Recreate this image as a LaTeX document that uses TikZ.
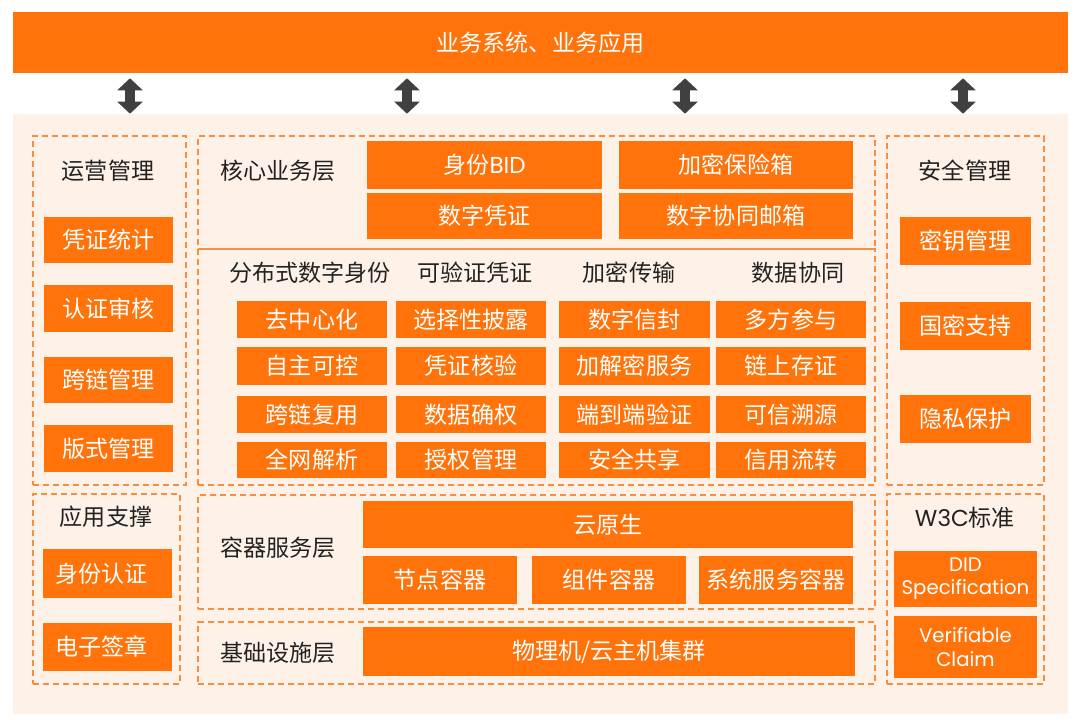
\documentclass[tikz,border=0pt]{standalone}
\usepackage{fontspec}
\setmainfont{Noto Sans CJK SC}
\newfontfamily\latfont{Poppins}
\usetikzlibrary{arrows.meta, positioning, fit}
\definecolor{brandorange}{RGB}{255,115,10}
\definecolor{dashorange}{RGB}{249,140,62}
\definecolor{panelbg}{RGB}{254,242,232}
\definecolor{titlegray}{RGB}{34,34,34}
\definecolor{arrowgray}{RGB}{64,64,64}
\newcommand{\boxfont}{\fontsize{16.4}{19}\selectfont}
\newcommand{\smallfont}{\fontsize{14}{16.5}\selectfont\latfont}
\tikzset{
    obox/.style={fill=brandorange, inner sep=0pt},
    btxt/.style={text=white, font=\boxfont, inner sep=0pt, align=center},
    dbox/.style={draw=dashorange, line width=0.04cm, dash pattern=on 0.15cm off 0.1cm, inner sep=0pt},
    ttl/.style={text=titlegray, font=\boxfont, inner sep=0pt},
    updown/.style={{Triangle[length=0.3cm,width=0.62cm]}-{Triangle[length=0.3cm,width=0.62cm]}, line width=0.27cm, arrowgray}
}

\begin{document}
\begin{tikzpicture}[x=0.025cm, y=-0.025cm]
        \useasboundingbox (0,0) rectangle (1080,720);
        % top bar and panel
        \node [obox, fit={(13,12) (1068,73)}, label={[btxt]center:业务系统、业务应用}] (biz) {};
        \node [fill=panelbg, inner sep=0pt, fit={(13,114) (1068,714)}] (bg) {};

        \foreach \i/\x in {1/130, 2/407, 3/685, 4/963} {
            \coordinate (p\i) at (\x,0);
            \draw [updown] ([yshift=-0.125cm]biz.south -| p\i) -- (bg.north -| p\i);
        }

        % left column
        \node [dbox, fit={(33,136) (186,485)}] (ops) {};
        \node [ttl] (opsttl) at (108,171) {运营管理};
        \node [obox, fit={(44,217) (173,263)}, label={[btxt]center:凭证统计}] (pztj) {};
        \node [obox, fit={(44,285) (173,332)}, label={[btxt]center:认证审核}] (rzsh) {};
        \node [obox, fit={(44,357) (173,403)}, label={[btxt]center:跨链管理}] (klgl) {};
        \node [obox, fit={(44,425) (173,472)}, label={[btxt]center:版式管理}] (bsgl) {};

        \node [dbox, fit={(33,494) (180,684)}] (app) {};
        \node [ttl] (appttl) at (106,517) {应用支撑};
        \node [obox, fit={(43,549) (172,598)}, label={[btxt, xshift=-0.15cm]center:身份认证}] (sfrz) {};
        \node [obox, fit={(43,623) (172,671)}, label={[btxt, xshift=-0.15cm]center:电子签章}] (dzqz) {};

        % core business layer
        \node [dbox, fit={(198,136) (875,249)}] (core) {};
        \node [ttl] (corettl) at (278,171) {核心业务层};
        \node [obox, fit={(367,141) (602,189)}, label={[btxt]center:身份{\latfont BID}}] (bid) {};
        \node [obox, fit={(367,193) (602,239)}, label={[btxt]center:数字凭证}] (szpz) {};
        \node [obox, fit={(619,141) (853,189)}, label={[btxt]center:加密保险箱}] (bxx) {};
        \node [obox, fit={(619,193) (853,239)}, label={[btxt]center:数字协同邮箱}] (yx) {};

        % distributed identity grid
        \node [dbox, fit={(198,249) (875,485)}] (dist) {};
        \node [ttl] (h1) at (310,273) {分布式数字身份};
        \node [ttl] (h2) at (475,273) {可验证凭证};
        \node [ttl] (h3) at (629,273) {加密传输};
        \node [ttl] (h4) at (798,273) {数据协同};
        \foreach \c/\xa/\xb/\ta/\tb/\tc/\td in {
            1/237/387/去中心化/自主可控/跨链复用/全网解析,
            2/396/546/选择性披露/凭证核验/数据确权/授权管理,
            3/559/710/数字信封/加解密服务/端到端验证/安全共享,
            4/716/866/多方参与/链上存证/可信溯源/信用流转} {
            \node [obox, fit={(\xa,301) (\xb,338)}, label={[btxt]center:\ta}] (g\c1) {};
            \node [obox, fit={(\xa,347) (\xb,385)}, label={[btxt]center:\tb}] (g\c2) {};
            \node [obox, fit={(\xa,396) (\xb,433)}, label={[btxt]center:\tc}] (g\c3) {};
            \node [obox, fit={(\xa,442) (\xb,478)}, label={[btxt]center:\td}] (g\c4) {};
        }

        % container and infrastructure layers
        \node [dbox, fit={(198,495) (875,609)}] (ctr) {};
        \node [ttl] (ctrttl) at (278,548) {容器服务层};
        \node [obox, fit={(363,501) (853,548)}, label={[btxt]center:云原生}] (yys) {};
        \node [obox, fit={(363,556) (517,604)}, label={[btxt]center:节点容器}] (jdrq) {};
        \node [obox, fit={(532,556) (686,604)}, label={[btxt]center:组件容器}] (zjrq) {};
        \node [obox, fit={(699,556) (853,604)}, label={[btxt]center:系统服务容器}] (xtrq) {};

        \node [dbox, fit={(198,622) (875,684)}] (infra) {};
        \node [ttl] (infrattl) at (278,653) {基础设施层};
        \node [obox, fit={(363,627) (855,676)}, label={[btxt]center:物理机/云主机集群}] (jq) {};

        % right column
        \node [dbox, fit={(887,136) (1044,485)}] (sec) {};
        \node [ttl] (secttl) at (965,171) {安全管理};
        \node [obox, fit={(900,217) (1031,265)}, label={[btxt]center:密钥管理}] (mygl) {};
        \node [obox, fit={(900,302) (1031,350)}, label={[btxt]center:国密支持}] (gmzc) {};
        \node [obox, fit={(900,395) (1031,443)}, label={[btxt]center:隐私保护}] (ysbh) {};

        \node [dbox, fit={(887,494) (1044,684)}] (w3c) {};
        \node [ttl] (w3cttl) at (965,518) {{\latfont W3C}标准};
        \node [obox, fit={(894,551) (1037,607)}, label={[btxt, font=\smallfont]center:DID\\Specification}] (did) {};
        \node [obox, fit={(894,616) (1037,678)}, label={[btxt, font=\smallfont]center:Verifiable\\Claim}] (vc) {};
    \end{tikzpicture}
\end{document}
